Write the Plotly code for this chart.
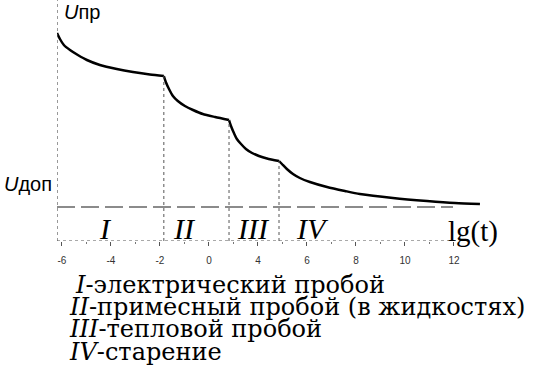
import plotly.graph_objects as go

# lg(t) positions (axis units) and U values for the four regions
seg1_x = [-6.20, -6.08, -5.92, -5.67, -5.35, -4.98, -4.45, -3.76, -3.10, -2.41, -1.84]
seg1_y = [208, 202, 196, 191, 186, 181, 176, 172, 169, 166.5, 165]
seg2_x = [-1.84, -1.76, -1.63, -1.47, -1.27, -0.98, -0.65, -0.25, 0.25, 0.82]
seg2_y = [165, 159, 152, 145, 140, 135, 131, 127, 124, 121]
seg3_x = [0.82, 0.90, 1.02, 1.14, 1.31, 1.51, 1.76, 2.04, 2.37, 2.86]
seg3_y = [121, 115, 108, 102, 97, 92, 88, 85, 82.5, 80]
seg4_x = [2.86, 2.98, 3.18, 3.43, 3.71, 4.12, 4.82, 5.55, 6.16, 7.51, 8.90, 10.04, 11.06]
seg4_y = [80, 77, 72, 67, 63, 59, 54, 50, 47, 43, 40, 38, 37]

u_dop = 34
dop_x = [-6.2, 9.96]

tick_vals = [-6, -4, -2, 0, 2, 4, 6, 8, 10]
tick_text = ["-6", "-4", "-2", "0", "4", "6", "8", "10", "12"]

region_labels = ["I", "II", "III", "IV"]
region_label_x = [-4.24, -0.98, 1.80, 4.24]

legend_lines = [
    "<i>I</i>-электрический пробой",
    "<i>II</i>-примесный пробой (в жидкостях)",
    "<i>III</i>-тепловой пробой",
    "<i>IV</i>-старение",
]

segments = [(seg1_x, seg1_y), (seg2_x, seg2_y), (seg3_x, seg3_y), (seg4_x, seg4_y)]

fig = go.Figure()
fig.add_trace(go.Scatter(x=dop_x, y=[u_dop, u_dop], mode="lines",
                         line=dict(color="#666666", width=1.5, dash="18px,6px"),
                         hoverinfo="skip", showlegend=False))
for sx, sy in segments:
    fig.add_trace(go.Scatter(x=sx, y=sy, mode="lines",
                             line=dict(color="black", width=2.5, shape="spline", smoothing=0.7),
                             hoverinfo="skip", showlegend=False))

# vertical dotted dividers at region boundaries
for sx, sy in segments[:3]:
    fig.add_shape(type="line", x0=sx[-1], x1=sx[-1], y0=0, y1=sy[-1], xref="x", yref="y",
                  line=dict(color="#555555", width=1, dash="dot"))

# x axis line (only up to the last tick area)
fig.add_shape(type="line", x0=-6.2, x1=10.1, y0=0, y1=0, xref="x", yref="y",
              line=dict(color="#555555", width=1.2, dash="dot"))
# y axis line
fig.add_shape(type="line", x0=-6.2, x1=-6.2, y0=0, y1=241, xref="x", yref="y",
              line=dict(color="#555555", width=1.2, dash="dot"))

for lab, lx in zip(region_labels, region_label_x):
    fig.add_annotation(x=lx, y=13, xref="x", yref="y", text=f"<i>{lab}</i>",
                       showarrow=False, font=dict(family="Liberation Serif", size=30, color="black"))

fig.add_annotation(x=10.78, y=10, xref="x", yref="y", text="lg(t)", showarrow=False,
                   font=dict(family="Liberation Serif", size=29, color="black"))
fig.add_annotation(x=-6.0, y=229, xref="x", yref="y", text="<i>U</i>пр", showarrow=False,
                   xanchor="left", font=dict(family="Liberation Sans", size=20, color="black"))
fig.add_annotation(x=-0.127, y=0.183, xref="paper", yref="paper", text="<i>U</i>доп",
                   showarrow=False, xanchor="left",
                   font=dict(family="Liberation Sans", size=20, color="black"))

legend_px_x = [74, 68, 68, 68]
legend_px_y = [285, 307, 329, 352]
for txt, px, py in zip(legend_lines, legend_px_x, legend_px_y):
    fig.add_annotation(x=(px - 57) / 433, y=(241 - py) / 241, xref="paper", yref="paper",
                       text=txt, showarrow=False, xanchor="left", yanchor="middle",
                       borderpad=0,
                       font=dict(family="DejaVu Serif", size=24, color="black"))

fig.update_layout(
    width=533, height=373,
    margin=dict(l=57, r=43, t=0, b=132),
    paper_bgcolor="white", plot_bgcolor="white",
    xaxis=dict(range=[-6.2, 11.47], tickvals=tick_vals, ticktext=tick_text,
               ticks="outside", ticklen=4, tickcolor="#555555", showline=False,
               showgrid=False, zeroline=False, ticklabelstandoff=6,
               tickfont=dict(family="Liberation Sans", size=10, color="#333333"),
               minor=dict(tickvals=[-5, -3, -1, 1, 3, 5, 7, 9], ticks="outside",
                          ticklen=2, tickcolor="#777777")),
    yaxis=dict(range=[0, 241], showticklabels=False, showgrid=False, zeroline=False,
               showline=False, ticks=""),
)

fig.write_html("out.html", config={"displayModeBar": False},
               post_script="document.body.style.margin='0';document.body.style.overflow='hidden';")
